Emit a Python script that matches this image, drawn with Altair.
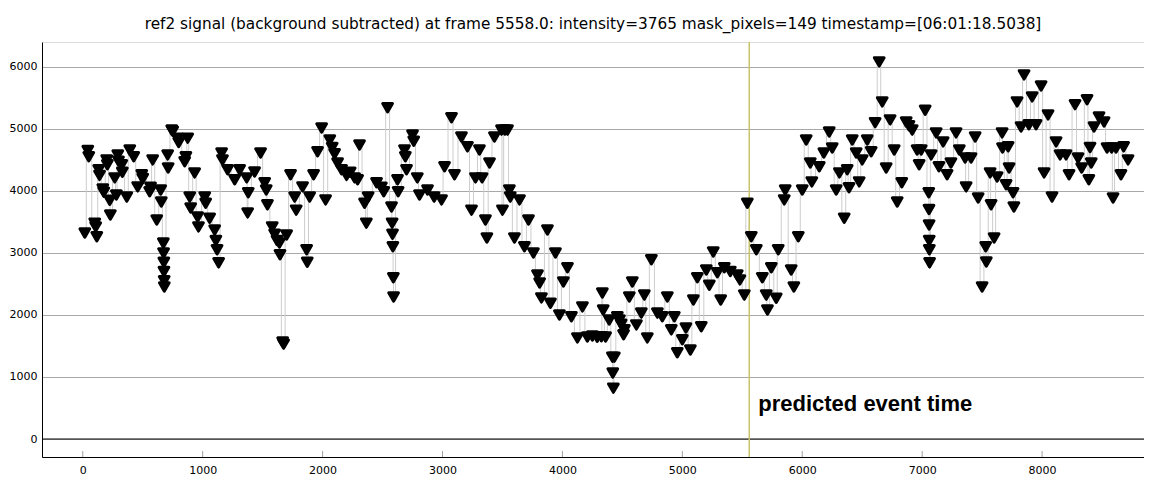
import altair as alt
import pandas as pd

TITLE = "ref2 signal (background subtracted) at frame 5558.0: intensity=3765 mask_pixels=149 timestamp=[06:01:18.5038]"
EVENT_FRAME = 5558
EVENT_LABEL = "predicted event time"

X_TICKS = [0, 1000, 2000, 3000, 4000, 5000, 6000, 7000, 8000]
Y_TICKS = [0, 1000, 2000, 3000, 4000, 5000, 6000]

frames = [
    17, 42, 50, 100, 108, 117, 133, 140, 167, 175, 200, 205, 225, 230, 267, 280, 292, 298, 325, 330,
    367, 392, 425, 458, 492, 500, 558, 565, 583, 617, 650, 655, 672, 674, 676, 677, 679, 680, 708, 712,
    742, 750, 792, 800, 850, 860, 875, 892, 900, 933, 958, 965, 1017, 1025, 1058, 1100, 1110, 1120, 1133, 1158,
    1165, 1208, 1267, 1308, 1367, 1375, 1380, 1433, 1483, 1517, 1530, 1540, 1580, 1600, 1620, 1640, 1645, 1667, 1675, 1700,
    1733, 1767, 1780, 1833, 1867, 1872, 1892, 1925, 1958, 1992, 2025, 2060, 2080, 2100, 2125, 2158, 2200, 2230, 2267, 2292,
    2308, 2350, 2365, 2380, 2450, 2490, 2510, 2542, 2575, 2580, 2583, 2586, 2590, 2592, 2625, 2630, 2683, 2690, 2700, 2750,
    2760, 2790, 2808, 2875, 2930, 2992, 3017, 3075, 3100, 3158, 3208, 3242, 3275, 3308, 3330, 3358, 3370, 3392, 3433, 3492,
    3500, 3520, 3542, 3558, 3565, 3600, 3642, 3683, 3717, 3758, 3792, 3810, 3825, 3875, 3900, 3942, 3975, 4008, 4042, 4075,
    4125, 4167, 4208, 4250, 4290, 4325, 4333, 4340, 4360, 4390, 4417, 4420, 4425, 4433, 4458, 4475, 4490, 4510, 4517, 4558,
    4583, 4617, 4658, 4683, 4708, 4742, 4792, 4833, 4875, 4908, 4933, 4958, 5000, 5030, 5067, 5092, 5125, 5158, 5200, 5225,
    5258, 5292, 5320, 5350, 5400, 5458, 5480, 5517, 5542, 5575, 5617, 5667, 5700, 5710, 5742, 5783, 5800, 5850, 5858, 5908,
    5930, 5967, 6000, 6033, 6067, 6080, 6142, 6180, 6225, 6250, 6283, 6310, 6350, 6375, 6390, 6417, 6450, 6475, 6500, 6542,
    6575, 6608, 6642, 6667, 6700, 6733, 6767, 6792, 6830, 6867, 6890, 6917, 6958, 6975, 6992, 7025, 7055, 7057, 7058, 7059,
    7060, 7062, 7075, 7117, 7140, 7175, 7208, 7240, 7283, 7310, 7358, 7367, 7408, 7442, 7467, 7500, 7530, 7535, 7567, 7575,
    7600, 7625, 7667, 7670, 7700, 7717, 7725, 7758, 7765, 7792, 7825, 7850, 7890, 7917, 7950, 7992, 8017, 8050, 8083, 8117,
    8150, 8200, 8225, 8275, 8300, 8330, 8375, 8390, 8400, 8410, 8433, 8475, 8517, 8542, 8580, 8592, 8617, 8658, 8680, 8717,
]

intensity = [
    3320, 4650, 4550, 3480, 3420, 3260, 4340, 4250, 4030, 3980, 4500, 4420, 3850, 3610, 4210, 3935, 4580, 4480, 4420, 4300,
    3900, 4660, 4550, 4065, 4260, 4200, 3985, 4060, 4500, 3530, 4015, 3820, 3160, 3000, 2850, 2700, 2550, 2450, 4580, 4370,
    4980, 4960, 4850, 4780, 4470, 4550, 4850, 3900, 3725, 4290, 3580, 3420, 3900, 3800, 3560, 3370, 3200, 3050, 2840, 4610,
    4500, 4340, 4180, 4340, 4210, 3645, 3970, 4305, 4610, 4130, 4015, 3775, 3420, 3300, 3200, 3160, 2970, 1565, 1530, 3290,
    4260, 3900, 3690, 4065, 3050, 2850, 3900, 4260, 4630, 5015, 3855, 4820, 4700, 4600, 4450, 4340, 4250, 4300, 4210, 4180,
    4740, 3800, 3480, 3900, 4130, 4060, 3985, 5340, 3740, 3480, 3300, 3100, 2600, 2290, 4180, 3985, 4660, 4550, 4340, 4900,
    4800, 4210, 3935, 4015, 3900, 3855, 4390, 5180, 4260, 4870, 4710, 3690, 4210, 4660, 4210, 3530, 3240, 4450, 4870, 4980,
    3690, 4980, 4980, 4015, 3900, 3240, 3855, 3100, 3530, 3000, 2645, 2515, 2275, 3370, 2190, 3000, 2000, 2530, 2760, 1970,
    1630, 2130, 1645, 1660, 1640, 1650, 2355, 2080, 1645, 1920, 1320, 1065, 820, 1320, 1970, 1920, 1850, 1680, 1760, 2290,
    2530, 1840, 2030, 2320, 1630, 2890, 2030, 1970, 2290, 1760, 1970, 1390, 1600, 1790, 1435, 2240, 2600, 1810, 2725, 2480,
    3015, 2680, 2240, 2760, 2700, 2645, 2565, 2320, 3800, 3260, 3050, 2600, 2320, 2080, 2760, 2270, 3050, 3855, 4015, 2725,
    2450, 3260, 4015, 4820, 4450, 4145, 4390, 4610, 4950, 4690, 4015, 4290, 3560, 4340, 4050, 4820, 4610, 4145, 4500, 4820,
    4630, 5100, 6080, 5435, 4370, 5145, 4660, 3820, 4130, 5110, 5050, 4980, 4660, 4420, 4660, 5300, 3970, 3700, 3450, 3200,
    3050, 2840, 4580, 4935, 4390, 4790, 4260, 4450, 4935, 4660, 4530, 4065, 4530, 4870, 3885, 2450, 3100, 2855, 4290, 3775,
    3240, 4225, 4935, 4690, 4100, 4710, 4370, 3970, 3740, 5435, 5030, 5870, 5065, 5515, 5065, 5690, 4290, 5225, 3900, 4790,
    4580, 4580, 4260, 5390, 4530, 4370, 5470, 4180, 4700, 4450, 5030, 5190, 5110, 4690, 4690, 3885, 4690, 4260, 4710, 4500,
]

df = pd.DataFrame({"frame": frames, "intensity": intensity})
ticks_df = pd.DataFrame({"tick": X_TICKS})

FONT = "DejaVu Sans"
W, H = 1102, 415

x_scale = alt.Scale(domain=[-340, 8850], nice=False, zero=False)
y_scale = alt.Scale(domain=[-290, 6400], nice=False, zero=False)

x_enc = alt.X(
    "frame:Q", scale=x_scale, title=None,
    axis=alt.Axis(values=X_TICKS, format="d", grid=False, ticks=False, labelPadding=7,
                  domainColor="black", labelColor="black", labelFont=FONT, labelFontSize=11),
)
y_enc = alt.Y(
    "intensity:Q", scale=y_scale, title=None,
    axis=alt.Axis(values=Y_TICKS, format="d", grid=True, gridColor="#a8a8a8", gridWidth=1,
                  ticks=False, labelPadding=5, domainColor="black", labelColor="black",
                  labelFont=FONT, labelFontSize=11),
)

base = alt.Chart(df)

line = base.mark_line(color="#cdcdcd", strokeWidth=1, interpolate="step", clip=True).encode(x=x_enc, y=y_enc)
points = base.mark_point(shape="triangle-down", filled=True, size=95, color="black", stroke="black",
                         strokeWidth=3, strokeJoin="round", opacity=1, clip=True).encode(
    x="frame:Q", y="intensity:Q")

zero_line = alt.Chart(pd.DataFrame({"z": [0]})).mark_rule(color="black", strokeWidth=1).encode(
    y=alt.Y("z:Q", scale=y_scale)
)

xticks = alt.Chart(ticks_df).mark_rule(color="#a0a0a0", strokeWidth=1).encode(
    x=alt.X("tick:Q", scale=x_scale), y=alt.value(H), y2=alt.value(H - 6)
)

event_df = pd.DataFrame({"frame": [EVENT_FRAME], "label": [EVENT_LABEL]})
event_rule = alt.Chart(event_df).mark_rule(color="#c9c46a", strokeWidth=1.5).encode(
    x=alt.X("frame:Q", scale=x_scale)
)
event_text = alt.Chart(event_df).mark_text(
    align="left", baseline="alphabetic", dx=9, font="Liberation Sans", fontSize=22,
    fontWeight="bold", color="black"
).encode(x=alt.X("frame:Q", scale=x_scale), y=alt.value(369), text="label:N")

chart = alt.layer(zero_line, xticks, line, event_rule, points, event_text).properties(
    width=W, height=H,
    title=alt.TitleParams(TITLE, font=FONT, fontSize=15.3, fontWeight="normal", color="black",
                          anchor="middle", offset=9),
    autosize=alt.AutoSizeParams(type="none"),
    padding={"left": 34, "top": 34, "right": 0, "bottom": 30},
).configure_view(stroke=None).configure(background="white")

chart.save("out.html", embed_options={"renderer": "svg", "actions": False})
